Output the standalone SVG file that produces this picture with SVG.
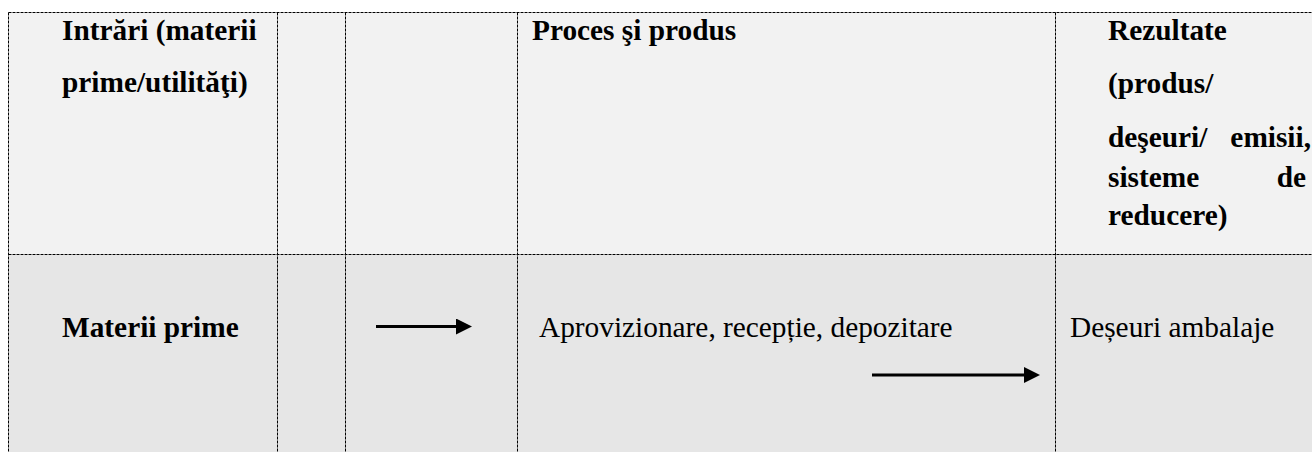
<svg xmlns="http://www.w3.org/2000/svg" width="1312" height="452" viewBox="0 0 1312 452">
  <defs>
    <style>
      .hdr { fill: #f2f2f2; }
      .row { fill: #e6e6e6; }
      .grid { stroke: #000; stroke-width: 1; stroke-dasharray: 3 1; fill: none; }
      .b { font-family: "Liberation Serif", "Times New Roman", serif; font-size: 29.33px; font-weight: bold; fill: #000; }
      .r { font-family: "Liberation Serif", "Times New Roman", serif; font-size: 29.33px; fill: #000; }
      .arrow { stroke: #000; stroke-width: 3; fill: none; }
    </style>
    <marker id="head" markerUnits="userSpaceOnUse" markerWidth="17" markerHeight="17" refX="4" refY="8" orient="auto">
      <path d="M0,0 L16,8 L0,16 Z" fill="#000"/>
    </marker>
  </defs>

  <rect x="0" y="0" width="1312" height="452" fill="#ffffff"/>
  <rect class="hdr" x="8.5" y="12.5" width="1303.5" height="242"/>
  <rect class="row" x="8.5" y="254.5" width="1303.5" height="197.5"/>

  <g id="grid">
    <line class="grid" x1="8.5" y1="12.5" x2="1312" y2="12.5"/>
    <line class="grid" x1="8.5" y1="254.5" x2="1312" y2="254.5"/>
    <line class="grid" x1="8.5" y1="12.5" x2="8.5" y2="452"/>
    <line class="grid" x1="277.5" y1="12.5" x2="277.5" y2="452"/>
    <line class="grid" x1="345.5" y1="12.5" x2="345.5" y2="452"/>
    <line class="grid" x1="517.5" y1="12.5" x2="517.5" y2="452"/>
    <line class="grid" x1="1055.5" y1="12.5" x2="1055.5" y2="452"/>
  </g>

  <g id="hdr-intrari">
    <text class="b" x="62" y="40">Intrări (materii</text>
    <text class="b" x="62" y="92">prime/utilităţi)</text>
  </g>
  <g id="hdr-proces">
    <text class="b" x="532" y="40">Proces şi produs</text>
  </g>
  <g id="hdr-rezultate">
    <text class="b" x="1108" y="40">Rezultate</text>
    <text class="b" x="1108" y="93">(produs/</text>
    <text class="b" x="1108" y="147">deşeuri/</text>
    <text class="b" x="1311" y="147" text-anchor="end">emisii,</text>
    <text class="b" x="1108" y="187">sisteme</text>
    <text class="b" x="1306" y="187" text-anchor="end">de</text>
    <text class="b" x="1108" y="225">reducere)</text>
  </g>

  <g id="materii-prime">
    <text class="b" x="62" y="337">Materii prime</text>
  </g>
  <g id="aprovizionare">
    <text class="r" x="539" y="337">Aprovizionare, recepție, depozitare</text>
  </g>
  <g id="deseuri-ambalaje">
    <text class="r" x="1070" y="337">Deșeuri ambalaje</text>
  </g>

  <g id="connectors">
    <line class="arrow" x1="376" y1="326.5" x2="460" y2="326.5" marker-end="url(#head)"/>
    <line class="arrow" x1="872" y1="375" x2="1028" y2="375" marker-end="url(#head)"/>
  </g>
</svg>
